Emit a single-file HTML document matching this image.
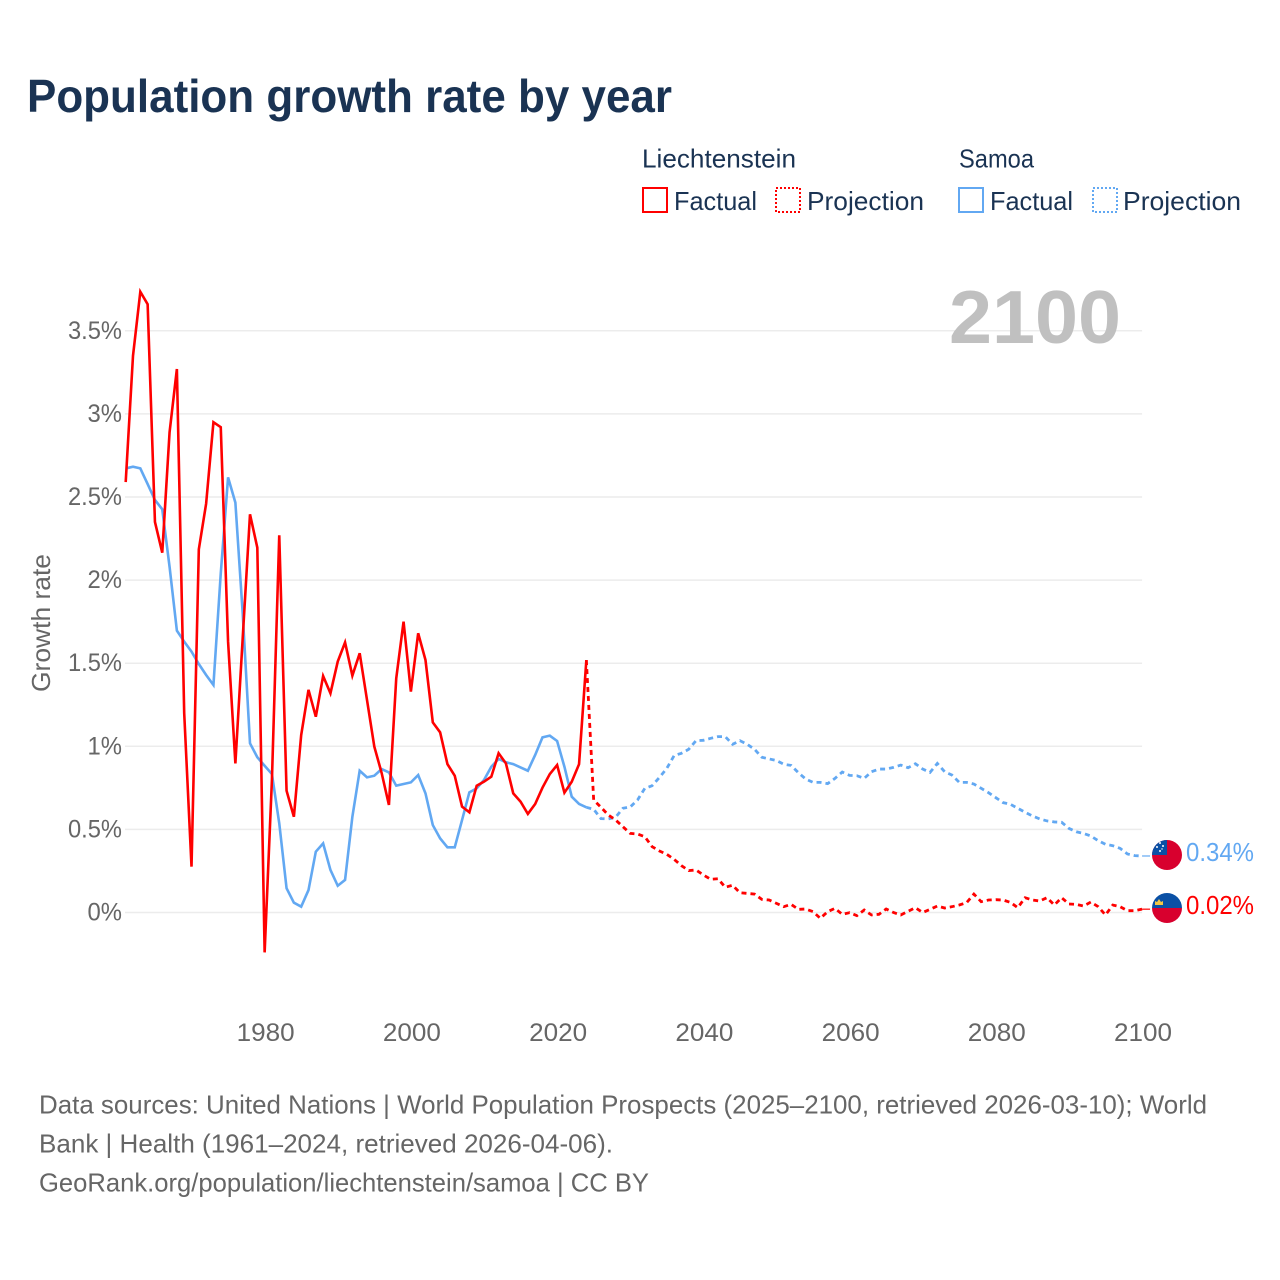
<!DOCTYPE html>
<html lang="en">
<head>
<meta charset="utf-8">
<title>Population growth rate by year</title>
<style>
  html, body { margin: 0; padding: 0; background: #fff; }
  svg { display: block; font-family: "Liberation Sans", sans-serif; }
</style>
</head>
<body>
<svg id="chart" xmlns="http://www.w3.org/2000/svg" width="1280" height="1280" viewBox="0 0 1280 1280">
  <rect width="1280" height="1280" fill="#ffffff"/>
  <text x="27" y="112" font-size="46" font-weight="700" fill="#1a3353" textLength="645" lengthAdjust="spacingAndGlyphs">Population growth rate by year</text>

  <g fill="#1a3353" font-size="26">
    <text x="642" y="167.500" textLength="154" lengthAdjust="spacingAndGlyphs">Liechtenstein</text>
    <text x="959" y="167.500" textLength="75" lengthAdjust="spacingAndGlyphs">Samoa</text>
    <rect x="643" y="188" width="24" height="24" fill="none" stroke="#ff0000" stroke-width="2"/>
    <text x="674" y="210" textLength="83" lengthAdjust="spacingAndGlyphs">Factual</text>
    <rect x="776" y="188" width="24" height="24" fill="none" stroke="#ff0000" stroke-width="2" stroke-dasharray="2 2"/>
    <text x="807" y="210" textLength="117" lengthAdjust="spacingAndGlyphs">Projection</text>
    <rect x="959" y="188" width="24" height="24" fill="none" stroke="#62a8f2" stroke-width="2"/>
    <text x="990" y="210" textLength="83" lengthAdjust="spacingAndGlyphs">Factual</text>
    <rect x="1093" y="188" width="24" height="24" fill="none" stroke="#62a8f2" stroke-width="2" stroke-dasharray="2 2"/>
    <text x="1123" y="210" textLength="118" lengthAdjust="spacingAndGlyphs">Projection</text>
  </g>

  <g id="grid"></g>
  <text x="949" y="343" font-size="75" font-weight="700" fill="#c0c0c0" textLength="172" lengthAdjust="spacingAndGlyphs">2100</text>
  <g id="yticks" fill="#666666" font-size="25"></g>
  <g id="xticks" fill="#666666" font-size="25"></g>
  <text transform="translate(50 692) rotate(-90)" font-size="26" fill="#666666" textLength="138" lengthAdjust="spacingAndGlyphs">Growth rate</text>
  <g id="series"></g>

  <defs>
    <clipPath id="flag-clip-ws"><circle cx="1167" cy="855" r="15"/></clipPath>
    <clipPath id="flag-clip-li"><circle cx="1167" cy="908" r="15"/></clipPath>
  </defs>
  <g clip-path="url(#flag-clip-ws)">
    <rect x="1152" y="840" width="30" height="30" fill="#d8002e"/>
    <rect x="1152" y="840" width="15" height="15" fill="#0a50a5"/>
    <circle cx="1160" cy="843" r="1" fill="#fff"/>
    <circle cx="1157" cy="847" r="1" fill="#fff"/>
    <circle cx="1163" cy="846" r="1" fill="#fff"/>
    <circle cx="1160" cy="851" r="1" fill="#fff"/>
    <circle cx="1162" cy="849" r="0.7" fill="#fff"/>
  </g>
  <g clip-path="url(#flag-clip-li)">
    <rect x="1152" y="893" width="30" height="15" fill="#0a50a5"/>
    <rect x="1152" y="908" width="30" height="15" fill="#d8002e"/>
    <path d="M1155 905v-4l2 1 2-3 2 3 2-1v4z" fill="#f2c744"/>
  </g>
  <text x="1186" y="861" font-size="26" fill="#62a8f2" textLength="68" lengthAdjust="spacingAndGlyphs">0.34%</text>
  <text x="1186" y="914" font-size="26" fill="#ff0000" textLength="68" lengthAdjust="spacingAndGlyphs">0.02%</text>

  <g font-size="26" fill="#666666">
    <text x="39" y="1113.500" textLength="1168" lengthAdjust="spacingAndGlyphs">Data sources: United Nations | World Population Prospects (2025–2100, retrieved 2026-03-10); World</text>
    <text x="39" y="1152.500" textLength="574" lengthAdjust="spacingAndGlyphs">Bank | Health (1961–2024, retrieved 2026-04-06).</text>
    <text x="39" y="1191.500" textLength="610" lengthAdjust="spacingAndGlyphs">GeoRank.org/population/liechtenstein/samoa | CC BY</text>
  </g>
</svg>

<script>
const factualStartYear = 1961;
const projectionStartYear = 2025;
const yTicks = [0, 0.5, 1, 1.5, 2, 2.5, 3, 3.5];
const yTickLabels = ["0%", "0.5%", "1%", "1.5%", "2%", "2.5%", "3%", "3.5%"];
const xTicks = [1980, 2000, 2020, 2040, 2060, 2080, 2100];
const xTickLabels = ["1980", "2000", "2020", "2040", "2060", "2080", "2100"];

const liechtensteinFactual = [
  2.59, 3.35, 3.735, 3.66, 2.35, 2.165, 2.89, 3.27, 1.2, 0.276,
  2.185, 2.46, 2.95, 2.92, 1.63, 0.897, 1.65, 2.396, 2.195, -0.24,
  0.8, 2.27, 0.733, 0.576, 1.068, 1.34, 1.178, 1.423, 1.319, 1.51,
  1.625, 1.425, 1.56, 1.279, 0.998, 0.84, 0.647, 1.409, 1.75, 1.329,
  1.68, 1.519, 1.144, 1.084, 0.893, 0.823, 0.637, 0.603, 0.763, 0.787,
  0.817, 0.958, 0.897, 0.717, 0.667, 0.593, 0.653, 0.751, 0.833, 0.887,
  0.721, 0.787, 0.892, 1.519
];
const samoaFactual = [
  2.672, 2.682, 2.672, 2.578, 2.482, 2.426, 2.08, 1.696, 1.63, 1.57,
  1.495, 1.429, 1.369, 2.04, 2.618, 2.466, 1.8, 1.018, 0.934, 0.883,
  0.833, 0.537, 0.146, 0.059, 0.035, 0.135, 0.366, 0.416, 0.256, 0.161,
  0.196, 0.576, 0.853, 0.813, 0.823, 0.863, 0.843, 0.763, 0.773, 0.783,
  0.827, 0.717, 0.526, 0.446, 0.392, 0.392, 0.556, 0.723, 0.747, 0.797,
  0.877, 0.924, 0.904, 0.893, 0.873, 0.853, 0.948, 1.054, 1.064, 1.032,
  0.877, 0.697, 0.653, 0.633
];
const liechtensteinProjection = [
  0.677, 0.633, 0.587, 0.557, 0.516, 0.476, 0.472, 0.456, 0.396, 0.37,
  0.35, 0.32, 0.282, 0.252, 0.256, 0.226, 0.2, 0.203, 0.152, 0.164,
  0.119, 0.115, 0.111, 0.079, 0.075, 0.055, 0.035, 0.049, 0.019, 0.021,
  0.005, -0.035, 0.005, 0.025, -0.011, -0.001, -0.019, 0.015, -0.015, -0.011,
  0.021, 0, -0.015, 0.007, 0.029, 0, 0.019, 0.039, 0.027, 0.035,
  0.045, 0.059, 0.111, 0.065, 0.075, 0.077, 0.075, 0.061, 0.029, 0.089,
  0.075, 0.069, 0.089, 0.045, 0.089, 0.051, 0.049, 0.039, 0.063, 0.035,
  -0.015, 0.045, 0.035, 0.011, 0.011, 0.02
];
const samoaProjection = [
  0.621, 0.565, 0.563, 0.573, 0.627, 0.635, 0.677, 0.747, 0.763, 0.813,
  0.867, 0.944, 0.958, 0.982, 1.034, 1.036, 1.048, 1.058, 1.058, 1.012,
  1.034, 1.012, 0.982, 0.934, 0.924, 0.914, 0.892, 0.885, 0.841, 0.803,
  0.783, 0.783, 0.775, 0.807, 0.845, 0.825, 0.823, 0.807, 0.847, 0.863,
  0.863, 0.873, 0.887, 0.871, 0.895, 0.863, 0.843, 0.897, 0.847, 0.827,
  0.783, 0.783, 0.773, 0.747, 0.721, 0.691, 0.661, 0.651, 0.627, 0.603,
  0.581, 0.563, 0.551, 0.545, 0.543, 0.506, 0.486, 0.476, 0.46, 0.432,
  0.41, 0.402, 0.386, 0.352, 0.342, 0.34
];

const NS = "http://www.w3.org/2000/svg";
function xScale(year) { return 125.7 + (year - 1961) * 7.312; }
function yScale(value) { return 912.5 - value * 166.2; }
function make(tag, attrs, parent) {
  const el = document.createElementNS(NS, tag);
  for (const k in attrs) el.setAttribute(k, attrs[k]);
  parent.appendChild(el);
  return el;
}
function labelWidth(label) {
  let w = 0;
  for (const c of label) w += c === "%" ? 20 : c === "." ? 5 : 14.5;
  return w;
}

const gridG = document.getElementById("grid");
const yG = document.getElementById("yticks");
yTicks.forEach(function (t, i) {
  const line = make("line", { x1: 125, x2: xScale(2100), y1: yScale(t), y2: yScale(t), stroke: "#ececec", "stroke-width": 1.5 }, gridG);
  
  
  const label = make("text", { x: 122, y: yScale(t) + 8, "text-anchor": "end", textLength: labelWidth(yTickLabels[i]), lengthAdjust: "spacingAndGlyphs" }, yG);
  label.textContent = yTickLabels[i];
  
  
});

const xG = document.getElementById("xticks");
xTicks.forEach(function (t, i) {
  const label = make("text", { x: xScale(t) + 1, y: 1041, "text-anchor": "middle", textLength: labelWidth(xTickLabels[i]), lengthAdjust: "spacingAndGlyphs" }, xG);
  label.textContent = xTickLabels[i];
  
  
});

function linePath(values, startYear, prefix) {
  let d = prefix;
  values.forEach(function (v, i) {
    d += (d ? "L" : "M") + xScale(startYear + i).toFixed(2) + " " + yScale(v).toFixed(2);
  });
  return d;
}

const seriesG = document.getElementById("series");
function lastPoint(values) { return values[values.length - 1]; }

const samoaColor = "#62a8f2";
const liechtensteinColor = "#ff0000";

const samoaFactualLine = make("path", { d: linePath(samoaFactual, factualStartYear, ""), fill: "none", stroke: samoaColor, "stroke-width": 2.6, "stroke-linejoin": "miter" }, seriesG);



const samoaProjLine = make("path", {
  d: linePath(samoaProjection, projectionStartYear, "M" + xScale(2024).toFixed(2) + " " + yScale(lastPoint(samoaFactual)).toFixed(2)),
  fill: "none", stroke: samoaColor, "stroke-width": 2.8, "stroke-dasharray": "5 4"
}, seriesG);



const liFactualLine = make("path", { d: linePath(liechtensteinFactual, factualStartYear, ""), fill: "none", stroke: liechtensteinColor, "stroke-width": 2.6, "stroke-linejoin": "miter" }, seriesG);



const liProjLine = make("path", {
  d: linePath(liechtensteinProjection, projectionStartYear, "M" + xScale(2024).toFixed(2) + " " + yScale(lastPoint(liechtensteinFactual)).toFixed(2)),
  fill: "none", stroke: liechtensteinColor, "stroke-width": 2.8, "stroke-dasharray": "5 4"
}, seriesG);



const samoaLeader = make("line", { x1: xScale(2100), x2: xScale(2100) + 8, y1: yScale(lastPoint(samoaProjection)), y2: yScale(lastPoint(samoaProjection)), stroke: samoaColor, "stroke-width": 1.2 }, seriesG);



const liLeader = make("line", { x1: xScale(2100), x2: xScale(2100) + 8, y1: yScale(lastPoint(liechtensteinProjection)), y2: yScale(lastPoint(liechtensteinProjection)), stroke: liechtensteinColor, "stroke-width": 1.2 }, seriesG);


</script>
</body>
</html>
